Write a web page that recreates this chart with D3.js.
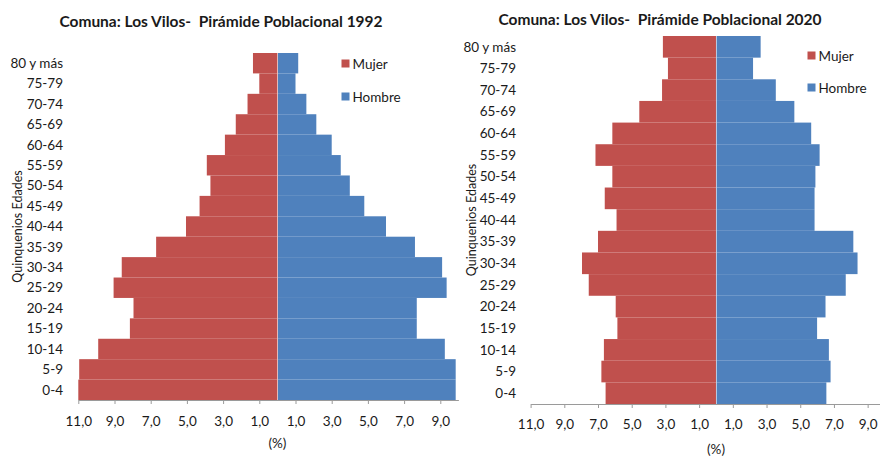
<!DOCTYPE html>
<html>
<head>
<meta charset="utf-8">
<script src="https://cdn.jsdelivr.net/npm/d3@7"></script>
<style>
  html, body { margin: 0; padding: 0; background: #fff; }
  svg { display: block; }
  text { font-family: Lato, "Open Sans", sans-serif; fill: #1a1a1a; }
</style>
</head>
<body>
<svg id="chart" width="880" height="457"></svg>
<script>
// ---- Data ----
const categories = ["0-4","5-9","10-14","15-19","20-24","25-29","30-34","35-39","40-44",
                    "45-49","50-54","55-59","60-64","65-69","70-74","75-79","80 y más"];
const mujer1992  = [11.0,10.95,9.9,8.15,7.95,9.05,8.6,6.7,5.05,4.3,3.7,3.9,2.9,2.3,1.65,1.0,1.35];
const hombre1992 = [9.85,9.85,9.25,7.7,7.7,9.35,9.1,7.6,6.0,4.8,4.0,3.5,3.0,2.15,1.6,1.0,1.15];
const mujer2020  = [6.55,6.8,6.65,5.85,5.95,7.55,7.95,7.0,5.9,6.6,6.15,7.15,6.15,4.55,3.2,2.85,3.15];
const hombre2020 = [6.55,6.8,6.7,6.0,6.5,7.7,8.4,8.15,5.85,5.85,5.9,6.15,5.65,4.65,3.55,2.2,2.65];
const tickValues = [-11,-9,-7,-5,-3,-1,1,3,5,7,9];
const seriesNames = ["Mujer","Hombre"];
const titles = ["Comuna: Los Vilos-  Pirámide Poblacional 1992",
                "Comuna: Los Vilos-  Pirámide Poblacional 2020"];
const xLabel = "(%)";
const yLabel = "Quinquenios Edades";

const colors = { Mujer: "#C0504D", Hombre: "#4F81BD" };
const svg = d3.select("#chart");
const fmt = v => d3.format(".1f")(Math.abs(v)).replace(".", ",");

function pyramid(cfg) {
  const g = svg.append("g");
  const x = d3.scaleLinear().domain([-11, 10]).range([cfg.x0, cfg.x1]);
  const y = d3.scaleBand().domain(categories.slice().reverse()).range([cfg.top, cfg.bottom]).padding(0);

  // bars
  g.selectAll(".m").data(categories).join("rect")
    .attr("x", (d,i) => x(-cfg.mujer[i]))
    .attr("y", d => y(d))
    .attr("width", (d,i) => x(0) - x(-cfg.mujer[i]))
    .attr("height", y.bandwidth())
    .attr("fill", colors.Mujer);
  g.selectAll(".h").data(categories).join("rect")
    .attr("x", x(0) + 0.6)
    .attr("y", d => y(d))
    .attr("width", (d,i) => x(cfg.hombre[i]) - x(0) - 0.6)
    .attr("height", y.bandwidth())
    .attr("fill", colors.Hombre);

  // x axis
  const ax = g.append("g").attr("transform", `translate(0,${cfg.bottom})`)
    .call(d3.axisBottom(x).tickValues(tickValues).tickFormat(fmt).tickSize(4).tickSizeOuter(0));
  ax.select(".domain").attr("stroke", "#9a9a9a");
  ax.selectAll(".tick line").attr("stroke", "#9a9a9a");
  ax.selectAll(".tick text").attr("font-size", cfg.tickFont).attr("y", cfg.tickY).attr("dy", "0.35em")
    .attr("fill", "#1a1a1a").attr("font-family", "Lato, sans-serif");

  // category labels
  g.selectAll(".cl").data(categories).join("text")
    .attr("x", cfg.labelX)
    .attr("y", d => y(d) + y.bandwidth()/2)
    .attr("dy", "0.35em")
    .attr("text-anchor", "end")
    .attr("font-size", cfg.catFont)
    .text(d => d);

  // title
  g.append("text").attr("x", cfg.titleX).attr("y", cfg.titleY)
    .attr("text-anchor", "middle").attr("font-size", 15.5).attr("font-weight", "bold")
    .style("white-space", "pre")
    .text(cfg.title);

  // x label
  g.append("text").attr("x", x(0)).attr("y", cfg.xLabelY)
    .attr("text-anchor", "middle").attr("font-size", 13.5).text(xLabel);

  // y label
  g.append("text")
    .attr("transform", `translate(${cfg.yLabelX},${(cfg.top+cfg.bottom)/2}) rotate(-90)`)
    .attr("text-anchor", "middle").attr("font-size", 12.5).text(yLabel);

  // legend
  seriesNames.forEach((s, i) => {
    const ly = cfg.legY[i];
    g.append("rect").attr("x", cfg.legX).attr("y", ly - 4.5).attr("width", 8).attr("height", 8)
      .attr("fill", colors[s]);
    g.append("text").attr("x", cfg.legX + 11).attr("y", ly).attr("dy", "0.35em")
      .attr("font-size", 13.5).text(s);
  });
}

pyramid({
  x0: 78.3, x1: 458.4, top: 53, bottom: 400,
  mujer: mujer1992, hombre: hombre1992,
  labelX: 63, catFont: 13.5, tickFont: 13.5, tickY: 21,
  title: titles[0], titleX: 221, titleY: 27,
  xLabelY: 448, yLabelX: 22,
  legX: 341.5, legY: [64, 97]
});
pyramid({
  x0: 530.6, x1: 884.5, top: 36, bottom: 404,
  mujer: mujer2020, hombre: hombre2020,
  labelX: 516, catFont: 13.5, tickFont: 13.5, tickY: 20,
  title: titles[1], titleX: 660, titleY: 25,
  xLabelY: 454, yLabelX: 476,
  legX: 807.5, legY: [56, 88]
});
</script>
</body>
</html>
